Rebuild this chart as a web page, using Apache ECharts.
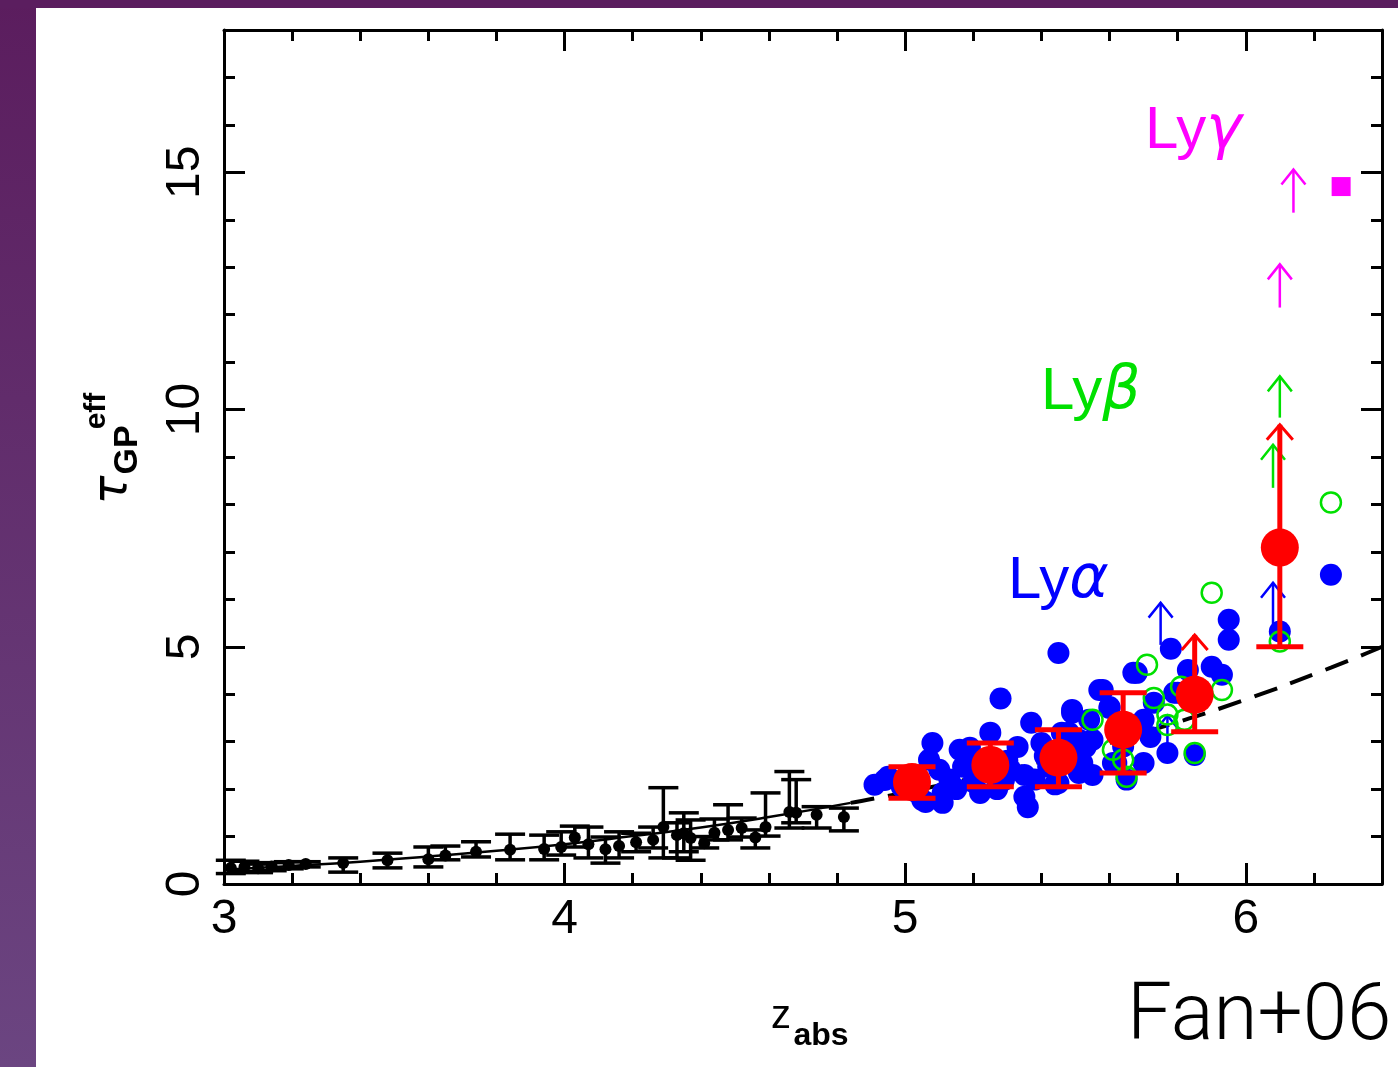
<!DOCTYPE html>
<html><head><meta charset="utf-8">
<script src="https://cdn.jsdelivr.net/npm/echarts@6/dist/echarts.min.js"></script>
<style>html,body{margin:0;padding:0;background:#fff}#c{width:1398px;height:1067px}</style>
</head><body><div id="c"></div>
<script>
// ---------- DATA ----------
const xTicks = [3, 4, 5, 6];
const yTicks = [0, 5, 10, 15];

// black low-z points: z, tau, lower cap, upper cap
const blackZ   = [3.02,3.06,3.10,3.14,3.19,3.24,3.35,3.48,3.60,3.65,3.74,3.84,3.94,3.99,4.03,4.07,4.12,4.16,4.21,4.26,4.29,4.33,4.35,4.37,4.41,4.44,4.48,4.52,4.56,4.59,4.66,4.68,4.74,4.82];
const blackTau = [0.34,0.36,0.33,0.37,0.40,0.42,0.44,0.50,0.52,0.60,0.68,0.72,0.74,0.78,0.98,0.84,0.73,0.80,0.88,0.93,1.20,1.03,1.07,0.97,0.86,1.08,1.14,1.18,0.98,1.20,1.52,1.50,1.46,1.41];
const blackLo  = [0.22,0.26,0.24,0.28,0.32,0.36,0.25,0.34,0.36,0.51,0.57,0.51,0.51,0.61,0.78,0.55,0.44,0.55,0.68,0.76,0.55,0.55,0.68,0.50,0.76,0.93,0.93,0.99,0.76,1.01,1.18,1.29,1.18,1.12];
const blackHi  = [0.50,0.48,0.42,0.45,0.47,0.47,0.55,0.65,0.78,0.80,0.89,1.05,1.03,1.10,1.22,1.20,0.99,1.10,1.07,1.20,2.03,1.29,1.50,1.35,1.00,1.37,1.67,1.39,1.14,1.92,2.37,2.20,1.63,1.60];

// fit curves
const fitSolidZ   = [3.0,3.2,3.4,3.6,3.8,4.0,4.2,4.4,4.6,4.84];
const fitSolidTau = [0.30,0.38,0.47,0.58,0.70,0.84,1.01,1.19,1.41,1.71];
const fitDashZ    = [4.84,5.0,5.25,5.5,5.75,6.0,6.25,6.4];
const fitDashTau  = [1.71,1.93,2.32,2.78,3.30,3.89,4.56,5.0];

// blue (Ly alpha) individual measurements [z, tau]
const bluePts = [[4.91,2.09],[4.95,2.26],[4.94,2.19],[4.99,2.05],[5.03,1.95],[5.06,1.73],[5.08,2.97],[5.07,2.62],[5.10,2.41],[5.11,1.92],[5.05,1.77],[5.11,1.71],[5.13,2.20],[5.16,2.83],[5.17,2.47],[5.15,2.00],[5.19,2.87],[5.22,1.92],[5.20,2.15],[5.20,2.60],[5.25,3.19],[5.24,2.60],[5.26,2.30],[5.28,3.91],[5.29,2.19],[5.27,2.00],[5.31,2.40],[5.30,2.60],[5.33,2.89],[5.35,1.84],[5.35,2.30],[5.36,1.62],[5.37,3.40],[5.38,2.20],[5.40,2.97],[5.41,2.70],[5.42,2.47],[5.43,2.49],[5.44,2.10],[5.45,4.87],[5.45,2.13],[5.46,3.19],[5.47,2.70],[5.48,3.19],[5.49,3.67],[5.49,3.61],[5.51,2.34],[5.50,2.90],[5.51,3.04],[5.52,2.55],[5.53,2.89],[5.54,3.46],[5.55,3.04],[5.55,2.30],[5.57,4.09],[5.58,4.09],[5.60,3.73],[5.60,3.71],[5.61,2.55],[5.62,2.55],[5.64,2.90],[5.65,2.20],[5.67,4.45],[5.68,4.45],[5.70,3.46],[5.70,2.55],[5.72,3.10],[5.73,3.82],[5.77,2.76],[5.78,4.96],[5.79,4.03],[5.80,4.03],[5.83,4.51],[5.85,2.72],[5.90,4.58],[5.93,4.41],[5.95,5.57],[5.95,5.15],[6.10,5.32],[6.25,6.52]];
// blue lower limits [z, from, to]
const blueArrows = [[5.75,5.04,5.93],[6.08,5.30,6.35],[5.77,2.90,3.55]];

// green (Ly beta) open circles [z, tau]
const greenPts = [[5.55,3.46],[5.61,2.83],[5.64,2.62],[5.65,2.26],[5.71,4.62],[5.73,3.92],[5.77,3.57],[5.77,3.35],[5.81,4.16],[5.82,3.46],[5.85,2.76],[5.90,6.14],[5.93,4.09],[6.10,5.11],[6.25,8.04]];
const greenArrows = [[6.08,8.35,9.26],[6.10,9.83,10.70]];

// magenta (Ly gamma)
const magentaArrows = [[6.10,12.15,13.06],[6.14,14.15,15.06]];
const magentaPts = [[6.28,14.70]];

// red binned averages
const redZ   = [5.02,5.25,5.45,5.64,5.85,6.10];
const redTau = [2.15,2.51,2.66,3.25,3.99,7.09];
const redLo  = [1.81,2.05,2.05,2.34,3.21,5.00];
const redHi  = [2.47,2.97,3.25,4.03,5.25,9.68];
const redLimit = [0,0,0,0,1,1];

// ---------- CHART ----------
const chart = echarts.init(document.getElementById('c'));
const zip = (a, b) => a.map((v, i) => [v, b[i]]);

function errRender(capW, color, lw, headW, headH, headLw) {
  return function (params, api) {
    const z = api.value(0), lo = api.value(1), hi = api.value(2), lim = api.value(3);
    const a = api.coord([z, lo]), b = api.coord([z, hi]);
    const st = { stroke: color, lineWidth: lw };
    const ch = [
      { type: 'line', shape: { x1: a[0], y1: a[1], x2: b[0], y2: b[1] }, style: st },
      { type: 'line', shape: { x1: a[0] - capW / 2, y1: a[1], x2: a[0] + capW / 2, y2: a[1] }, style: st }
    ];
    if (lim) {
      ch.push({ type: 'polyline', shape: { points: [[b[0] - headW, b[1] + headH], [b[0], b[1]], [b[0] + headW, b[1] + headH]] }, style: { stroke: color, lineWidth: headLw, fill: null } });
    } else {
      ch.push({ type: 'line', shape: { x1: b[0] - capW / 2, y1: b[1], x2: b[0] + capW / 2, y2: b[1] }, style: st });
    }
    return { type: 'group', children: ch };
  };
}
function arrowRender(color, lw, headW, headH) {
  return function (params, api) {
    const z = api.value(0);
    const a = api.coord([z, api.value(1)]), b = api.coord([z, api.value(2)]);
    return { type: 'group', children: [
      { type: 'line', shape: { x1: a[0], y1: a[1], x2: b[0], y2: b[1] }, style: { stroke: color, lineWidth: lw } },
      { type: 'polyline', shape: { points: [[b[0] - headW, b[1] + headH], [b[0], b[1]], [b[0] + headW, b[1] + headH]] }, style: { stroke: color, lineWidth: lw, fill: null } }
    ] };
  };
}

const gridBox = { left: 224, right: 16, top: 30, bottom: 183 };
function xAx(grid, pos, interval, len, labels, line) {
  return {
    type: 'value', gridIndex: grid, position: pos, min: 3, max: 6.4, interval: interval,
    axisLine: { show: line, onZero: false, lineStyle: { color: '#000', width: 3 } },
    axisTick: { show: true, inside: true, length: len, lineStyle: { color: '#000', width: 3 } },
    axisLabel: { show: labels, fontSize: 48, color: '#000', margin: 12, fontFamily: 'Liberation Sans',
      formatter: v => xTicks.includes(Math.round(v * 100) / 100) ? String(Math.round(v)) : '' },
    splitLine: { show: false }
  };
}
function yAx(grid, pos, interval, len, labels, line) {
  return {
    type: 'value', gridIndex: grid, position: pos, min: 0, max: 18, interval: interval,
    axisLine: { show: line, onZero: false, lineStyle: { color: '#000', width: 3 } },
    axisTick: { show: true, inside: true, length: len, lineStyle: { color: '#000', width: 3 } },
    axisLabel: { show: labels, fontSize: 48, color: '#000', margin: 14, rotate: 90, fontFamily: 'Liberation Sans',
      formatter: v => yTicks.includes(v) ? String(v) : '' },
    splitLine: { show: false }
  };
}

const option = {
  animation: false,
  backgroundColor: '#fff',
  grid: [Object.assign({}, gridBox), Object.assign({}, gridBox)],
  xAxis: [
    xAx(0, 'bottom', 1, 21, true, true),
    xAx(0, 'top', 1, 21, false, true),
    xAx(1, 'bottom', 0.2, 11, false, false),
    xAx(1, 'top', 0.2, 11, false, false)
  ],
  yAxis: [
    yAx(0, 'left', 5, 21, true, true),
    yAx(0, 'right', 5, 21, false, true),
    yAx(1, 'left', 1, 11, false, false),
    yAx(1, 'right', 1, 11, false, false)
  ],
  series: [
    { type: 'line', data: zip(fitSolidZ, fitSolidTau), smooth: true, showSymbol: false, lineStyle: { color: '#000', width: 2.5 }, z: 2 },
    { type: 'line', data: zip(fitDashZ, fitDashTau), smooth: true, showSymbol: false, lineStyle: { color: '#000', width: 4, type: [24, 14] }, z: 2 },
    { type: 'custom', renderItem: errRender(30, '#000', 3.5, 0, 0, 0), data: blackZ.map((z, i) => [z, blackLo[i], blackHi[i], 0]), encode: { x: 0, y: [1, 2] }, z: 3 },
    { type: 'scatter', data: zip(blackZ, blackTau), symbolSize: 12, itemStyle: { color: '#000', opacity: 1 }, z: 4 },
    { type: 'scatter', data: bluePts, symbolSize: 22, itemStyle: { color: '#0000ff', opacity: 1 }, z: 5 },
    { type: 'custom', renderItem: arrowRender('#0000ff', 2.5, 12, 15), data: blueArrows, encode: { x: 0, y: [1, 2] }, z: 6 },
    { type: 'scatter', data: greenPts, symbolSize: 20, itemStyle: { color: 'rgba(0,0,0,0)', borderColor: '#00e000', borderWidth: 2.5, opacity: 1 }, z: 7 },
    { type: 'custom', renderItem: arrowRender('#00e000', 2.5, 12, 15), data: greenArrows, encode: { x: 0, y: [1, 2] }, z: 7 },
    { type: 'custom', renderItem: arrowRender('#ff00ff', 2.5, 12, 15), data: magentaArrows, encode: { x: 0, y: [1, 2] }, z: 7 },
    { type: 'scatter', data: magentaPts, symbol: 'rect', symbolSize: 19, itemStyle: { color: '#ff00ff', opacity: 1 }, z: 7 },
    { type: 'custom', renderItem: errRender(47, '#ff0000', 5, 13, 15, 3), data: redZ.map((z, i) => [z, redLo[i], redHi[i], redLimit[i]]), encode: { x: 0, y: [1, 2] }, z: 8 },
    { type: 'scatter', data: zip(redZ, redTau), symbolSize: 38, itemStyle: { color: '#ff0000', opacity: 1 }, z: 9 }
  ],
  graphic: [
    { type: 'rect', left: 0, top: 0, shape: { width: 36, height: 1067 }, z: 100,
      style: { fill: new echarts.graphic.LinearGradient(0, 0, 0, 1, [{ offset: 0, color: '#5b1d5e' }, { offset: 1, color: '#6b4581' }]) } },
    { type: 'rect', left: 0, top: 0, shape: { width: 1398, height: 8 }, z: 100, style: { fill: '#5b1e5f' } },
    // y-axis title
    { type: 'text', x: 114, y: 490, rotation: Math.PI / 2, z: 100,
      style: { text: 'τ', fontSize: 48, fontStyle: 'italic', fontFamily: 'DejaVu Sans', fill: '#000', align: 'center', verticalAlign: 'middle' } },
    { type: 'text', x: 128, y: 450, rotation: Math.PI / 2, z: 100,
      style: { text: 'GP', fontSize: 34, fontWeight: 'bold', fontFamily: 'Liberation Sans', fill: '#000', align: 'center', verticalAlign: 'middle' } },
    { type: 'text', x: 97, y: 411, rotation: Math.PI / 2, z: 100,
      style: { text: 'eff', fontSize: 30, fontWeight: 'bold', fontFamily: 'Liberation Sans', fill: '#000', align: 'center', verticalAlign: 'middle' } },
    // x-axis title
    { type: 'text', x: 781, y: 1017, z: 100,
      style: { text: 'z', fontSize: 40, fontFamily: 'Liberation Sans', fill: '#000', align: 'center', verticalAlign: 'middle' } },
    { type: 'text', x: 821, y: 1036, z: 100,
      style: { text: 'abs', fontSize: 32, fontWeight: 'bold', fontFamily: 'Liberation Sans', fill: '#000', align: 'center', verticalAlign: 'middle' } },
    // series labels
    { type: 'text', x: 1008, y: 581, z: 100,
      style: { text: '{a|Ly}{b|α}', verticalAlign: 'middle', align: 'left',
        rich: { a: { fontSize: 60, fontFamily: 'Liberation Sans', fill: '#0000ff', color: '#0000ff' }, b: { fontSize: 60, fontStyle: 'italic', fontFamily: 'DejaVu Sans', fill: '#0000ff', color: '#0000ff' } } } },
    { type: 'text', x: 1041, y: 392, z: 100,
      style: { text: '{a|Ly}{b|β}', verticalAlign: 'middle', align: 'left',
        rich: { a: { fontSize: 60, fontFamily: 'Liberation Sans', fill: '#00e000', color: '#00e000' }, b: { fontSize: 60, fontStyle: 'italic', fontFamily: 'DejaVu Sans', fill: '#00e000', color: '#00e000' } } } },
    { type: 'text', x: 1145, y: 131, z: 100,
      style: { text: '{a|Ly}{b|γ}', verticalAlign: 'middle', align: 'left',
        rich: { a: { fontSize: 60, fontFamily: 'Liberation Sans', fill: '#ff00ff', color: '#ff00ff' }, b: { fontSize: 60, fontStyle: 'italic', fontFamily: 'DejaVu Sans', fill: '#ff00ff', color: '#ff00ff' } } } },
    // citation
    { type: 'text', x: 1127, y: 1019, z: 100,
      style: { text: 'Fan+06', fontSize: 80, fontWeight: 300, fontFamily: 'Roboto', fill: '#000', align: 'left', verticalAlign: 'middle' } }
  ]
};
chart.setOption(option);
</script>
</body></html>
